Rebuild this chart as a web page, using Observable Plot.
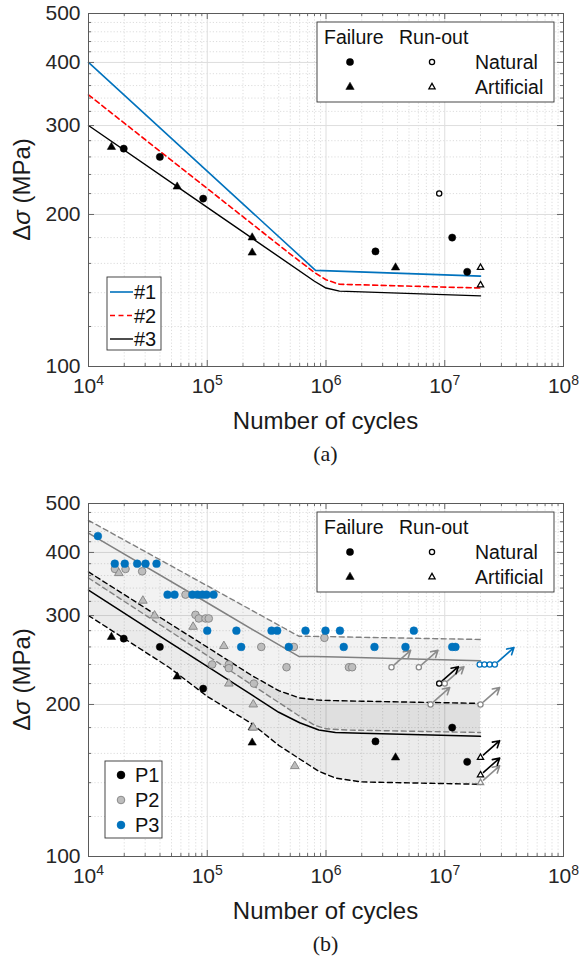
<!DOCTYPE html>
<html><head><meta charset="utf-8">
<script src="https://cdn.jsdelivr.net/npm/d3@7"></script>
<script src="https://cdn.jsdelivr.net/npm/@observablehq/plot@0.6"></script>
<style>
body{margin:0;background:#fff;}
#root svg{display:block}
</style></head><body><div id="root"></div>
<script>
const FONT = '"Liberation Sans", Arial, Helvetica, sans-serif';

// ---------- axes ----------
const xTicks = [1e4, 1e5, 1e6, 1e7, 1e8];
const yTicks = [100, 200, 300, 400, 500];
const yMinor = [120,140,160,180,220,240,260,280,320,340,360,380,420,440,460,480];
const xMinorMult = [2,3,4,5,6,7,8,9];
const xMinor = [];
for (const t of xTicks.slice(0, -1)) for (const m of xMinorMult) xMinor.push(m * t);

// ---------- panel (a): fitted curves ----------
const c1N = [1e4, 8.16e5, 2e7];
const c1S = [400, 155, 151];
const c2N = [1e4, 5e5, 8e5, 1e6, 1.3e6, 2e7];
const c2S = [345, 167, 153.5, 148.5, 145.5, 143];
const c3N = [1e4, 1e5, 8e5, 1e6, 1.3e6, 2e7];
const c3S = [300, 206.6, 147.5, 143, 141, 138];

// ---------- P1 (black) test data ----------
const p1NatFail = [[1.98e4,270],[3.99e4,260],[9.24e4,215],[2.61e6,169],[1.155e7,180],[1.545e7,154]];
const p1ArtFail = [[1.56e4,272],[5.58e4,227],[2.39e5,180],[2.39e5,168],[3.85e6,157]];
const p1NatRun = [[8.98e6,220]];
const p1ArtRun = [[2e7,157],[2e7,145]];

// ---------- P2 (grey) ----------
const p2NatFail = [[1.67e4,371],[2.05e4,371],[2.83e4,367],[6.56e4,330],[7.96e4,301],[8.49e4,296],[9.67e4,296],[1.03e5,296],[1.1e5,240],[1.52e5,240],[1.52e5,236],[2.47e5,220],[2.85e5,260],[4.65e5,237],[5.36e5,260],[9.7e5,271],[1.56e6,237],[1.66e6,237]];
const p2ArtFail = [[1.8e4,364],[2.87e4,321],[3.6e4,300],[7.6e4,285],[1.38e5,261],[1.52e5,220],[2.44e5,200],[2.44e5,180],[5.46e5,151]];
const p2NatRun = [[3.56e6,237],[6.05e6,237],[1.0e7,220],[7.59e6,200],[2e7,200]];
const p2ArtRun = [[2e7,140]];

// ---------- P3 (blue) ----------
const p3NatFail = [[1.2e4,431],[1.665e4,380],[2.02e4,380],[2.57e4,380],[3.02e4,380],[3.74e4,380],
  [4.63e4,330],[5.3e4,330],[7.5e4,330],[8.28e4,330],[9.12e4,330],[9.86e4,330],[1.13e5,330],
  [1e5,280],[1.76e5,280],[3.48e5,280],[3.88e5,280],[6.72e5,280],[9.9e5,280],[1.31e6,280],[5.49e6,280],
  [1.93e5,260],[4.86e5,260],[1.41e6,260],[2.56e6,260],[4.67e6,260],[1.156e7,260],[1.23e7,260]];
const p3NatRun = [[1.97e7,240],[2.16e7,240],[2.39e7,240],[2.64e7,240]];

// run-out arrows (start points)
const arrowsGrey = [[3.56e6,237],[6.05e6,237],[1.0e7,220],[7.59e6,200],[2e7,200],[2e7,140]];
const arrowsBlack = [[8.98e6,220],[2e7,157],[2e7,145]];
const arrowsBlue = [[2.64e7,240]];
const arrowKx = 1.45, arrowKy = 1.08;

// ---------- panel (b): scatter bands ----------
const bandGN = [1e4, 1e5, 3e5, 5.9e5, 8e5, 1e6, 1.5e6, 2e7];
const bandGHi = [463, 343.6, 298, 273, 272.8, 272.6, 272, 269];
const bandGMid = [437, 318, 273, 249, 248.8, 248.5, 248, 244];
const bandGLo = [356, 250, 211, 190, 182, 179, 178, 176];
const bandKN = [1e4, 4.75e4, 1e5, 2.39e5, 4e5, 6e5, 8.7e5, 1.2e6, 2e6, 2e7];
const bandKHi = [366, 290, 259.7, 228, 213, 206, 204, 203.5, 203, 201];
const bandKMid = [337, 266, 238, 208.7, 193, 184, 178, 176, 175.5, 173];
const bandKLo = [300, 237, 207.5, 183, 166, 156, 147.5, 143, 140.5, 139];

const BLUE = "#0072BD", GREY_F = "#bdbdbd", GREY_S = "#8a8a8a", GREY_L = "#808080";

const pts = a => a.map(([n, s]) => ({n, s}));
const crv = (N, S) => N.map((n, i) => ({n, s: S[i]}));
const band = (N, hi, mid, lo) => N.map((n, i) => ({n, hi: hi[i], mid: mid[i], lo: lo[i]}));

const PH = 353, PW = 475;
function frameMarks() {
  const st = {stroke: "#5a5a5a", strokeWidth: 0.9};
  return [
    Plot.ruleX(xTicks, {x: d => d, insetTop: PH - 6, ...st}),
    Plot.ruleX(xTicks, {x: d => d, insetBottom: PH - 6, ...st}),
    Plot.ruleX(xMinor, {x: d => d, insetTop: PH - 3, ...st}),
    Plot.ruleX(xMinor, {x: d => d, insetBottom: PH - 3, ...st}),
    Plot.ruleY(yTicks, {y: d => d, insetRight: PW - 6, ...st}),
    Plot.ruleY(yTicks, {y: d => d, insetLeft: PW - 6, ...st}),
    Plot.ruleY(yMinor, {y: d => d, insetRight: PW - 3, ...st}),
    Plot.ruleY(yMinor, {y: d => d, insetLeft: PW - 3, ...st}),
    Plot.frame({stroke: "#5a5a5a", strokeWidth: 1}),
    Plot.axisX({ticks: xTicks, tickSize: 0, tickPadding: 12, label: null, fontSize: 21,
      tickFormat: d => "10^" + Math.round(Math.log10(d))}),
    Plot.axisY({ticks: yTicks, tickSize: 0, tickPadding: 8, label: null, fontSize: 21,
      tickFormat: d => String(d)})
  ];
}
function gridMarks() {
  const minor = {stroke: "#d4d4d4", strokeWidth: 0.8, strokeDasharray: "1.2,2"};
  const major = {stroke: "#dedede", strokeWidth: 1};
  return [
    Plot.ruleX(xMinor, {x: d => d, ...minor}),
    Plot.ruleY(yMinor, {y: d => d, ...minor}),
    Plot.ruleX(xTicks, {x: d => d, ...major}),
    Plot.ruleY(yTicks, {y: d => d, ...major})
  ];
}

function makePanel(height, marks) {
  return Plot.plot({
    width: 583, height, marginLeft: 88, marginRight: 20, marginTop: 13, marginBottom: height - 366,
    style: {fontFamily: FONT, fontSize: "21px", color: "#262626", background: "#fff", overflow: "visible"},
    x: {type: "log", domain: [1e4, 1e8]},
    y: {type: "log", domain: [100, 500]},
    marks: [...gridMarks(), ...marks, ...frameMarks()]
  });
}

function decorate(svgEl, caption) {
  const svg = d3.select(svgEl);
  svg.selectAll("text").filter(function () { return /^10\^/.test(this.textContent); })
    .each(function () {
      const e = this.textContent.split("^")[1];
      const t = d3.select(this);
      t.text("");
      t.append("tspan").text("10");
      t.append("tspan").attr("dy", "-8").attr("font-size", 14).text(e);
    });
  svg.append("text").attr("x", 325.5).attr("y", 420).attr("text-anchor", "middle")
    .attr("dominant-baseline", "central").attr("font-family", FONT).attr("font-size", 24)
    .attr("fill", "#1a1a1a").text("Number of cycles");
  svg.append("text").attr("x", 325.5).attr("y", 453).attr("text-anchor", "middle")
    .attr("dominant-baseline", "central").attr("font-family", '"Liberation Serif", "DejaVu Serif", serif')
    .attr("font-size", 22).attr("fill", "#1a1a1a").text(caption);
  const yl = svg.append("text").attr("transform", "translate(21,189.5) rotate(-90)")
    .attr("text-anchor", "middle").attr("dominant-baseline", "central")
    .attr("font-family", FONT).attr("font-size", 24).attr("fill", "#1a1a1a");
  yl.append("tspan").text("Δ");
  yl.append("tspan").attr("font-style", "italic").text("σ");
  yl.append("tspan").text(" (MPa)");
  return svg;
}

function typeLegend(svg) {
  const g = svg.append("g").attr("font-family", FONT).attr("font-size", 19.5).attr("fill", "#111")
    .attr("text-anchor", "start");
  g.append("rect").attr("x", 317).attr("y", 22).attr("width", 237).attr("height", 80)
    .attr("fill", "#fff").attr("stroke", "#333").attr("stroke-width", 0.9);
  const txt = (x, y, s) => g.append("text").attr("x", x).attr("y", y).attr("dominant-baseline", "central").text(s);
  txt(324, 37, "Failure"); txt(399, 37, "Run-out"); txt(475, 62, "Natural"); txt(475, 87, "Artificial");
  const tri = (x, y, size, fill) => g.append("path").attr("d", d3.symbol(d3.symbolTriangle, size)())
    .attr("transform", `translate(${x},${y})`).attr("fill", fill).attr("stroke", "#000").attr("stroke-width", fill === "#fff" ? 1.3 : 0.5);
  g.append("circle").attr("cx", 350).attr("cy", 62).attr("r", 3.8).attr("fill", "#000");
  g.append("circle").attr("cx", 432).attr("cy", 62).attr("r", 2.6).attr("fill", "#fff").attr("stroke", "#000").attr("stroke-width", 1.3);
  tri(350, 87, Math.PI * 3.1 * 3.1, "#000");
  tri(432, 87, Math.PI * 2.3 * 2.3, "#fff");
}

function p1Marks() {
  return [
    Plot.dot(pts(p1NatFail), {x: "n", y: "s", r: 3.6, fill: "#000", stroke: "#000", strokeWidth: 0.5}),
    Plot.dot(pts(p1ArtFail), {x: "n", y: "s", r: 3.1, symbol: "triangle", fill: "#000", stroke: "#000", strokeWidth: 0.5}),
    Plot.dot(pts(p1NatRun), {x: "n", y: "s", r: 2.6, fill: "#fff", stroke: "#000", strokeWidth: 1.3}),
    Plot.dot(pts(p1ArtRun), {x: "n", y: "s", r: 2.3, symbol: "triangle", fill: "#fff", stroke: "#000", strokeWidth: 1.3})
  ];
}

// ---------- panel (a) ----------
const svgA = makePanel(490, [
  Plot.line(crv(c1N, c1S), {x: "n", y: "s", stroke: BLUE, strokeWidth: 1.6}),
  Plot.line(crv(c2N, c2S), {x: "n", y: "s", stroke: "#ff0000", strokeWidth: 1.6, strokeDasharray: "5,3.5"}),
  Plot.line(crv(c3N, c3S), {x: "n", y: "s", stroke: "#000", strokeWidth: 1.4}),
  ...p1Marks()
]);
{
  const svg = decorate(svgA, "(a)");
  typeLegend(svg);
  const g = svg.append("g").attr("font-family", FONT).attr("font-size", 20).attr("fill", "#111")
    .attr("text-anchor", "start");
  g.append("rect").attr("x", 107).attr("y", 277).attr("width", 54).attr("height", 73)
    .attr("fill", "#fff").attr("stroke", "#333").attr("stroke-width", 0.9);
  const items = [["#1", BLUE, null, 1.6], ["#2", "#ff0000", "5,3.5", 1.6], ["#3", "#000", null, 1.4]];
  items.forEach(([lab, col, dash, w], i) => {
    const y = 292 + i * 23.5;
    const l = g.append("line").attr("x1", 110).attr("x2", 133).attr("y1", y).attr("y2", y)
      .attr("stroke", col).attr("stroke-width", w);
    if (dash) l.attr("stroke-dasharray", dash);
    g.append("text").attr("x", 134).attr("y", y).attr("dominant-baseline", "central").text(lab);
  });
}

// ---------- panel (b) ----------
const bg = band(bandGN, bandGHi, bandGMid, bandGLo);
const bk = band(bandKN, bandKHi, bandKMid, bandKLo);
const arrowOpts = (col) => ({
  x1: d => d[0], y1: d => d[1], x2: d => d[0] * arrowKx, y2: d => d[1] * arrowKy,
  stroke: col, strokeWidth: 1.6, headLength: 7, insetStart: 4
});
const svgB = makePanel(478, [
  Plot.areaY(bg, {x: "n", y1: "lo", y2: "hi", fill: "#000", fillOpacity: 0.05}),
  Plot.areaY(bk, {x: "n", y1: "lo", y2: "hi", fill: "#000", fillOpacity: 0.08}),
  Plot.line(bg, {x: "n", y: "hi", stroke: GREY_L, strokeWidth: 1.4, strokeDasharray: "5,3.5"}),
  Plot.line(bg, {x: "n", y: "mid", stroke: GREY_L, strokeWidth: 1.5}),
  Plot.line(bg, {x: "n", y: "lo", stroke: GREY_L, strokeWidth: 1.4, strokeDasharray: "5,3.5"}),
  Plot.line(bk, {x: "n", y: "hi", stroke: "#000", strokeWidth: 1.4, strokeDasharray: "5,3.5"}),
  Plot.line(bk, {x: "n", y: "mid", stroke: "#000", strokeWidth: 1.5}),
  Plot.line(bk, {x: "n", y: "lo", stroke: "#000", strokeWidth: 1.4, strokeDasharray: "5,3.5"}),
  Plot.arrow(arrowsGrey, arrowOpts("#8c8c8c")),
  Plot.arrow(arrowsBlack, arrowOpts("#000")),
  Plot.arrow(arrowsBlue, arrowOpts(BLUE)),
  ...p1Marks(),
  Plot.dot(pts(p2NatFail), {x: "n", y: "s", r: 3.8, fill: GREY_F, stroke: GREY_S, strokeWidth: 1}),
  Plot.dot(pts(p2ArtFail), {x: "n", y: "s", r: 3.2, symbol: "triangle", fill: GREY_F, stroke: GREY_S, strokeWidth: 1}),
  Plot.dot(pts(p2NatRun), {x: "n", y: "s", r: 2.6, fill: "#fff", stroke: GREY_S, strokeWidth: 1.3}),
  Plot.dot(pts(p2ArtRun), {x: "n", y: "s", r: 2.3, symbol: "triangle", fill: "#fff", stroke: GREY_S, strokeWidth: 1.3}),
  Plot.dot(pts(p3NatFail), {x: "n", y: "s", r: 3.9, fill: BLUE, stroke: BLUE, strokeWidth: 0.5}),
  Plot.dot(pts(p3NatRun), {x: "n", y: "s", r: 2.6, fill: "#fff", stroke: BLUE, strokeWidth: 1.3})
]);
{
  const svg = decorate(svgB, "(b)");
  typeLegend(svg);
  const g = svg.append("g").attr("font-family", FONT).attr("font-size", 20).attr("fill", "#111")
    .attr("text-anchor", "start");
  g.append("rect").attr("x", 105).attr("y", 271).attr("width", 57).attr("height", 77)
    .attr("fill", "#fff").attr("stroke", "#333").attr("stroke-width", 0.9);
  const items = [["P1", "#000", "#000"], ["P2", GREY_F, GREY_S], ["P3", BLUE, BLUE]];
  items.forEach(([lab, f, s], i) => {
    const y = 285 + i * 25;
    g.append("circle").attr("cx", 121).attr("cy", y).attr("r", 3.8).attr("fill", f).attr("stroke", s).attr("stroke-width", 1);
    g.append("text").attr("x", 135).attr("y", y).attr("dominant-baseline", "central").text(lab);
  });
}

document.getElementById("root").append(svgA, svgB);
</script></body></html>
